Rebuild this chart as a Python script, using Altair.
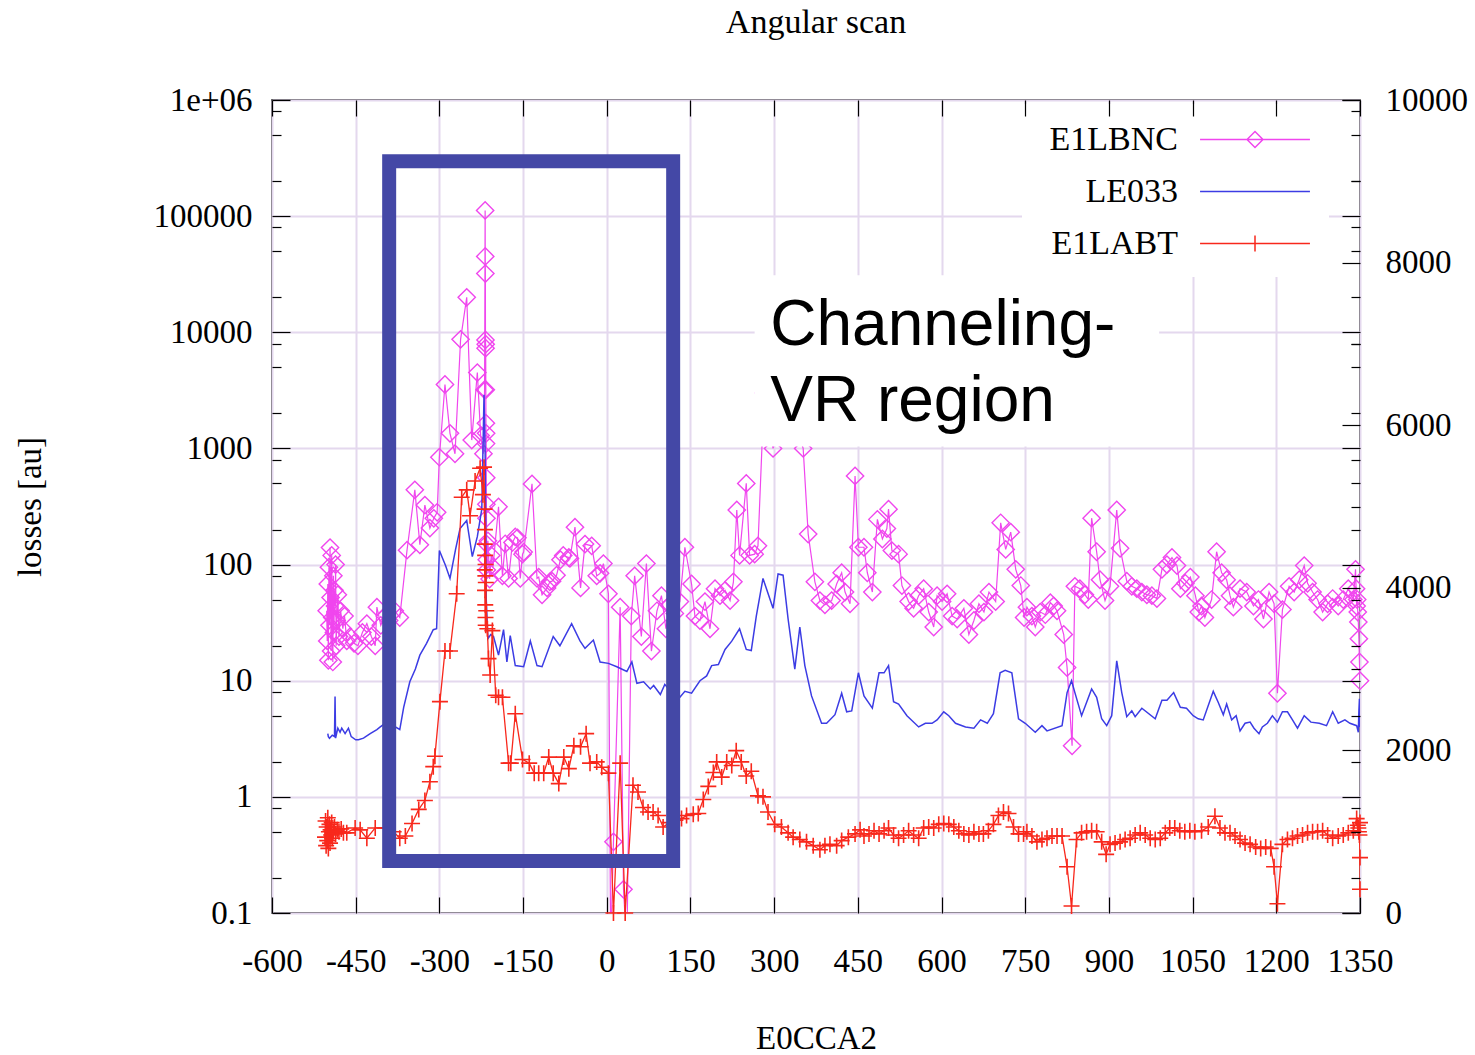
import altair as alt
import pandas as pd

# ---------------- measured series ----------------
# E1LBNC (diamonds)
lbnc_x = [-502, -501, -500, -499, -498, -497, -496, -495, -494, -493, -492, -491, -490, -489, -488,
          -487, -486, -485, -484, -482, -480, -477, -473, -470, -466, -460, -453, -446, -438, -430,
          -422, -415, -412, -405, -398, -390, -380, -371, -358, -344, -335, -326, -317, -310, -304,
          -300, -290, -281, -272, -262, -251, -242, -232, -226, -221, -219, -218, -217.8, -217.6,
          -217.4, -217.2, -217, -216.8, -216.6, -216.4, -216.2, -216, -215.8, -215.6, -215.4, -215.2,
          -215, -213, -210, -207, -204, -194, -187, -182, -176, -169, -164, -160, -155, -151, -149,
          -134, -125, -122, -116, -107, -102, -98, -90, -83, -78, -68, -66, -57, -47, -39, -27, -18,
          -12, -6, 3, 7, 12, 24, 30, 36, 44, 50, 62, 71, 80, 90, 98, 106, 113, 122, 131, 140, 152,
          158, 167, 176, 185, 194, 203, 212, 221, 227, 233, 238, 250, 256, 265, 271, 282, 298, 320,
          340, 352, 361, 373, 382, 391, 403, 412, 421, 427, 436, 445, 451, 461, 467, 476, 485, 494,
          502, 505, 511, 523, 529, 541, 550, 559, 568, 577, 586, 592, 601, 610, 619, 628, 640, 649,
          658, 667, 676, 685, 697, 706, 715, 724, 733, 742, 748, 753, 762, 768, 777, 786, 795, 801,
          807, 819, 825, 834, 839, 848, 857, 863, 869, 878, 884, 893, 902, 914, 920, 932, 941, 950,
          959, 968, 977, 986, 995, 1004, 1013, 1022, 1028, 1037, 1046, 1055, 1061, 1066, 1072, 1084,
          1093, 1102, 1111, 1117, 1123, 1135, 1147, 1159, 1168, 1177, 1187, 1196, 1202, 1211, 1223,
          1232, 1241, 1250, 1256, 1265, 1274, 1283, 1292, 1301, 1311, 1320, 1329, 1338, 1342, 1343,
          1344, 1345, 1346, 1347, 1348, 1349, 1350]
lbnc_v = [40, 22, 68, 15, 95, 30, 140, 52, 18, 120, 35, 14.5, 80, 26, 60,
          44, 100, 20, 33, 55, 24, 40, 28, 36, 22, 24, 21, 20, 26, 31,
          24, 20, 43, 30, 36, 33, 40, 35, 133, 440, 148, 325, 206, 250, 282,
          840, 3550, 1350, 900, 8700, 20000, 1180, 4500, 1290, 900, 3200, 112000, 45000, 32000,
          8600, 7300, 7900, 3200, 1650, 1100, 1350, 560, 330, 250, 150, 110,
          90, 160, 75, 120, 95, 314, 80, 151, 76, 155, 173, 170, 76, 123, 128,
          495, 76, 78, 55, 63, 71, 72, 81, 110, 120, 115, 113, 210, 63, 150, 145, 80,
          84, 102, 56, 0.05, 0.41, 43, 0.16, 0.05, 36, 80, 24, 102, 18, 40, 54, 28, 45, 38, 48, 141, 68,
          36, 33, 48, 28, 62, 54, 60, 49, 71, 295, 120, 500, 120, 123, 145, 3000, 1000, 2500,
          1500, 1000, 183, 71, 49, 45, 49, 68, 85, 58, 46, 580, 141, 141, 85, 58, 245, 166,
          204, 300, 132, 123, 66, 48, 42, 54, 62, 39, 29, 54, 48, 56, 36, 34, 42, 25,
          33, 46, 39, 58, 48, 229, 135, 190, 91, 66, 35, 43, 36, 29, 39, 37, 47, 44,
          40, 25, 13, 2.75, 65, 62, 55, 50, 251, 129, 74, 49, 65, 295, 138, 72, 65, 62,
          58, 55, 54, 51, 91, 100, 115, 98, 62, 69, 78, 54, 39, 44, 35, 50,
          129, 85, 74, 54, 43, 62, 58, 44, 50, 34, 58, 46, 7.8, 41, 65,
          58, 74, 98, 69, 58, 50, 39, 46, 51, 44, 50, 62, 50, 91, 62,
          44, 50, 39, 32, 23, 14.5, 10]

# LE033 (plain line)
le033_x = [-500, -499, -497, -492, -488, -487, -486, -482, -478, -475, -469, -463, -458, -450, -445,
           -436, -424, -412, -406, -397, -385, -379, -371, -364, -353, -343, -335, -323, -311, -305,
           -300, -289, -281, -271, -263, -251, -241, -232, -224, -220, -218, -216, -213, -208, -203,
           -194, -185, -179, -173, -164, -149, -137, -125, -116, -96, -84, -63, -48, -39, -24, -12,
           3, 18, 36, 45, 54, 66, 78, 84, 96, 104, 115, 131, 140, 152, 167, 179, 188, 200, 212, 224,
           238, 250, 259, 268, 280, 298, 307, 316, 325, 337, 346, 355, 367, 385, 394, 409, 421, 430,
           439, 451, 461, 476, 488, 497, 505, 514, 523, 538, 559, 571, 583, 592, 604, 613, 625, 643,
           658, 670, 682, 693, 705, 714, 726, 738, 750, 768, 780, 789, 816, 825, 833, 839, 851, 869,
           878, 887, 896, 905, 914, 923, 932, 941, 947, 959, 983, 995, 1004, 1016, 1028, 1039, 1051,
           1060, 1069, 1087, 1096, 1105, 1111, 1120, 1128, 1135, 1144, 1153, 1160, 1169, 1175, 1184,
           1193, 1202, 1211, 1220, 1229, 1238, 1250, 1262, 1277, 1290, 1301, 1311, 1323, 1332, 1344,
           1347, 1348, 1349, 1350]
le033_v = [3.5, 3.3, 3.2, 3.4, 3.3, 7.3, 3.2, 3.9, 3.6, 3.9, 3.5, 3.9, 3.3, 3.1, 3.1,
           3.2, 3.5, 3.8, 4.0, 4.3, 4.4, 4.0, 3.8, 5.9, 9.8, 12.6, 16.6, 21, 27.5, 28,
           132, 98, 76, 135, 204, 240, 117, 174, 300, 2900, 930, 50, 23, 25, 24,
           16.6, 27.5, 14.5, 24.5, 13.5, 13.2, 22, 13.5, 13.2, 24, 20, 31, 22, 19, 22.4, 14.5,
           14.1, 13.2, 12, 14.5, 9.5, 9.8, 8.5, 9.1, 7.6, 9.3, 8.0, 7.2, 8.1, 7.8, 10, 11, 13.5, 13.8, 18.6, 21.9,
           28, 18.6, 18.2, 36, 76, 42, 83, 81, 34, 12.6, 29, 13.5, 7.4, 4.3, 4.3, 5.1, 7.8, 5.4,
           5.5, 11.7, 7.4, 5.8, 11.7, 11.7, 13.5, 6.6, 6.3, 5.0, 4.0, 4.3, 4.3, 4.6, 5.4, 5.0, 4.3, 4.0,
           3.9, 4.6, 4.3, 5.2, 11.7, 12.3, 11.7, 4.7, 4.3, 3.6, 4.1, 3.7, 4.1, 7.9, 10, 7.9, 5.0, 8.5,
           7.2, 4.7, 4.1, 5.0, 14.8, 7.9, 4.9, 5.5, 4.9, 5.8, 4.7, 6.8, 6.8, 7.9, 5.9, 5.8, 5.0,
           4.7, 4.6, 8.1, 6.5, 5.1, 6.3, 4.6, 5.0, 3.7, 4.3, 4.4, 3.9, 3.5, 4.0, 4.3,
           5.0, 4.4, 5.4, 5.4, 4.6, 3.9, 5.0, 4.4, 4.3, 4.1, 5.4, 4.3, 4.6, 4.3, 4.1,
           3.6, 5.5, 7.0, 4.0]

# E1LABT (plus markers)
labt_x = [-505, -504, -503, -502, -501, -500, -499, -498, -497, -496, -495, -494, -493, -492, -490,
          -488, -486, -483, -480, -476, -472, -466, -451, -442, -430, -415, -397, -382, -371, -361,
          -349, -337, -326, -317, -311, -308, -299, -290, -281, -269, -260, -251, -245, -236, -227,
          -222, -220, -219, -218.8, -218.6, -218.4, -218.2, -218, -217.8, -217.6, -217.4, -217.2,
          -217, -216.8, -216, -214, -212, -209, -205, -199, -194, -187, -176, -172, -164, -151,
          -139, -130, -122, -113, -104, -96, -86, -77, -68, -59, -47, -37, -30, -18, -9, 3, 12, 24,
          33, 47, 56, 65, 74, 83, 92, 101, 112, 123, 134, 143, 155, 164, 173, 182, 191, 197, 206,
          215, 224, 232, 241, 250, 259, 271, 280, 289, 301, 313, 325, 334, 346, 358, 370, 382, 391,
          400, 412, 421, 433, 445, 454, 461, 470, 479, 488, 497, 505, 514, 523, 532, 541, 550, 559,
          568, 577, 586, 595, 604, 613, 622, 631, 640, 649, 658, 667, 675, 684, 693, 702, 711, 720,
          729, 738, 747, 753, 762, 771, 780, 789, 798, 807, 816, 825, 833, 842, 851, 860, 869, 878,
          887, 895, 902, 911, 920, 929, 938, 947, 956, 965, 974, 983, 992, 1001, 1009, 1018, 1027,
          1036, 1045, 1054, 1066, 1078, 1090, 1099, 1108, 1117, 1126, 1135, 1144, 1153, 1163, 1172,
          1181, 1190, 1196, 1202, 1211, 1220, 1229, 1238, 1247, 1256, 1265, 1274, 1283, 1292, 1301,
          1311, 1320, 1329, 1338, 1344, 1346, 1347, 1348, 1349, 1350, 1350, 1350]
labt_v = [0.45, 0.62, 0.38, 0.55, 0.42, 0.66, 0.36, 0.5, 0.58, 0.4, 0.52, 0.47, 0.6, 0.44, 0.5,
          0.55, 0.48, 0.52, 0.5, 0.53, 0.49, 0.49, 0.54, 0.52, 0.44, 0.54, 0.54, 0.5, 0.44, 0.46,
          0.59, 0.78, 0.93, 1.35, 1.82, 2.24, 6.6, 18, 18, 56, 380, 440, 263, 525, 676,
          400, 690, 300, 150, 90, 200, 60, 120, 45, 80, 35, 100,
          30, 70, 40, 28, 15.5, 11.2, 27, 7.5, 7.2, 7.2, 1.95, 1.95, 5.2, 2.1,
          1.95, 1.6, 1.6, 1.6, 2.2, 1.6, 1.3, 2.2, 1.75, 2.75, 2.7, 3.5, 1.95, 2.0, 1.8, 1.6, 0.1, 1.95,
          0.1, 1.26, 1.1, 0.81, 0.74, 0.74, 0.69, 0.55, 0.6, 0.63, 0.65, 0.69, 0.71, 0.72, 0.95, 1.23, 1.62, 2.0, 1.48,
          2.0, 1.86, 2.5, 2.0, 1.51, 1.66, 1.02, 1.0, 0.74, 0.58, 0.55, 0.49, 0.45, 0.43, 0.41, 0.38, 0.35, 0.38,
          0.39, 0.38, 0.42, 0.45, 0.48, 0.52, 0.46, 0.48, 0.51, 0.48, 0.51, 0.54, 0.47, 0.44, 0.47, 0.51, 0.47, 0.44,
          0.54, 0.55, 0.54, 0.58, 0.59, 0.58, 0.55, 0.51, 0.48, 0.47, 0.5, 0.48, 0.48, 0.51, 0.58, 0.69, 0.74, 0.72,
          0.55, 0.48, 0.48, 0.5, 0.46, 0.41, 0.43, 0.44, 0.46, 0.46, 0.46, 0.25, 0.115, 0.43, 0.49, 0.5, 0.51, 0.5,
          0.41, 0.32, 0.39, 0.4, 0.41, 0.43, 0.44, 0.47, 0.49, 0.47, 0.44, 0.43, 0.44, 0.49, 0.54, 0.54, 0.51,
          0.5, 0.51, 0.5, 0.51, 0.55, 0.68, 0.54, 0.49, 0.49, 0.46, 0.43, 0.4, 0.39, 0.37, 0.36,
          0.37, 0.36, 0.25, 0.12, 0.39, 0.43, 0.44, 0.46, 0.47, 0.49, 0.5, 0.5, 0.51, 0.47, 0.44,
          0.46, 0.47, 0.49, 0.51, 0.65, 0.57, 0.54, 0.5, 0.47, 0.3, 0.16, 0.6]

# ---------------- axes ----------------
x_ticks = list(range(-600, 1351, 150))
y_major = [0.1, 1, 10, 100, 1000, 10000, 100000, 1000000]
y_major_labels = ["0.1", "1", "10", "100", "1000", "10000", "100000", "1e+06"]
y_minor = [m * 10.0 ** k for k in range(-1, 6) for m in (2, 5, 8)]
y2_major = [0, 2000, 4000, 6000, 8000, 10000]
y2_minor = [1000, 3000, 5000, 7000, 9000]

series_names = ["E1LBNC", "LE033", "E1LABT"]
series_colors = ["#f046ee", "#3c3ce4", "#f8281c"]
frame_color = "#4448a6"

# highlighted scan window and its note
region_x = [-390, 119]
region_y = [0.28, 2.97e5]
note_box_x = [265, 990]
note_box_y = [1040, 31000]
note_x = [293]
note_y = [7770]
note_text = ["Channeling-\nVR region"]

SERIF = "Liberation Serif"
SANS = "Liberation Sans"
PLUS = "M-1,0H1M0,-1V1"
# legend glyphs: long line with the series marker in its middle
legend_shapes = [
    "M-2.97,0H2.97M-0.43,0L0,-0.43L0.43,0L0,0.43Z",
    "M-2.97,0H2.97",
    "M-2.97,0H2.97M0,-0.43V0.43",
]

xscale = alt.Scale(domain=[-600, 1350], nice=False, zero=False)
yscale = alt.Scale(type="log", domain=[0.1, 1e6], nice=False)
y2scale = alt.Scale(domain=[0, 10000], nice=False, zero=False)


def label_chain(values, labels):
    parts = [f"abs(datum.value - {v}) < {v} * 1e-6 ? '{t}'" for v, t in zip(values, labels)]
    return " : ".join(parts) + " : ''"


ax_bottom = alt.Axis(values=x_ticks, title="E0CCA2", grid=True, tickSize={"expr": "-16"},
                     labelPadding=48, labelExpr="'' + datum.value", labelFlush=False,
                     labelOverlap=False, titlePadding=44, zindex=0)
ax_top = alt.Axis(values=x_ticks, orient="top", labels=False, grid=False, title=None,
                  tickSize={"expr": "-16"}, zindex=1)
ax_left = alt.Axis(values=y_major, title="losses [au]", grid=True, tickSize={"expr": "-18"},
                   labelPadding=38, labelExpr=label_chain(y_major, y_major_labels),
                   labelOverlap=False, titlePadding=106, zindex=0)
ax_left_minor = alt.Axis(values=y_minor, labels=False, grid=False, title=None,
                         tickSize={"expr": "-9"}, zindex=1)
ax_right = alt.Axis(values=y_major, orient="right", labels=False, grid=False, title=None,
                    tickSize={"expr": "-18"}, zindex=1)
ax_right_minor = alt.Axis(values=y_minor, orient="right", labels=False, grid=False, title=None,
                          tickSize={"expr": "-9"}, zindex=1)
ax_y2 = alt.Axis(values=y2_major, orient="right", title=None, grid=False,
                 tickSize={"expr": "-18"}, labelPadding=43, labelExpr="'' + datum.value",
                 labelOverlap=False, zindex=1)
ax_y2_minor = alt.Axis(values=y2_minor, orient="right", labels=False, title=None, grid=False,
                       tickSize={"expr": "-9"}, zindex=1)

lbnc = pd.DataFrame({"x": lbnc_x, "v": lbnc_v, "i": range(len(lbnc_x))})
le033 = pd.DataFrame({"x": le033_x, "v": le033_v, "i": range(len(le033_x))})
labt = pd.DataFrame({"x": labt_x, "v": labt_v, "i": range(len(labt_x))})


def X(axis):
    return alt.X("x:Q", scale=xscale, axis=axis)


def Y(axis):
    return alt.Y("v:Q", scale=yscale, axis=axis)


lbnc_line = alt.Chart(lbnc).mark_line(color=series_colors[0], strokeWidth=1.2, clip=True).encode(
    x=X(ax_bottom), y=Y(ax_left), order="i:Q")
lbnc_pts = alt.Chart(lbnc).transform_filter("datum.v >= 0.1").mark_point(
    shape="diamond", size=300, filled=False, color=series_colors[0], strokeWidth=1.4, opacity=1
).encode(x=X(ax_top), y=Y(ax_right))

le033_line = alt.Chart(le033).mark_line(color=series_colors[1], strokeWidth=1.5, clip=True).encode(
    x=X(None), y=Y(ax_left_minor), order="i:Q")

labt_line = alt.Chart(labt).mark_line(color=series_colors[2], strokeWidth=1.3, clip=True).encode(
    x=X(None), y=Y(ax_right_minor), order="i:Q")
labt_pts = alt.Chart(labt).mark_point(
    shape=PLUS, size=256, filled=False, color=series_colors[2], strokeWidth=1.6, opacity=1
).encode(x=X(None), y=Y(None))

# right-hand linear axis
y2_major_layer = alt.Chart(pd.DataFrame({"t": y2_major})).mark_point(opacity=0).encode(
    y=alt.Y("t:Q", scale=y2scale, axis=ax_y2))
y2_minor_layer = alt.Chart(pd.DataFrame({"t": y2_minor})).mark_point(opacity=0).encode(
    y=alt.Y("t:Q", scale=y2scale, axis=ax_y2_minor))

note_box = alt.Chart(pd.DataFrame({"x0": [note_box_x[0]], "x1": [note_box_x[1]],
                                   "y0": [note_box_y[0]], "y1": [note_box_y[1]]})).mark_rect(
    color="white").encode(
    x=alt.X("x0:Q", scale=xscale, axis=None), x2="x1:Q",
    y=alt.Y("y0:Q", scale=yscale, axis=None), y2="y1:Q")

region = alt.Chart(pd.DataFrame({"x0": [region_x[0]], "x1": [region_x[1]],
                                 "y0": [region_y[0]], "y1": [region_y[1]]})).mark_rect(
    filled=False, color=frame_color, strokeWidth=14, strokeJoin="miter", opacity=1).encode(
    x=alt.X("x0:Q", scale=xscale, axis=None), x2="x1:Q",
    y=alt.Y("y0:Q", scale=yscale, axis=None), y2="y1:Q")

note = alt.Chart(pd.DataFrame({"x": note_x, "v": note_y, "t": note_text})).mark_text(
    align="left", baseline="alphabetic", font=SANS, fontSize=64, lineHeight=76,
    lineBreak="\n", color="black").encode(
    x=alt.X("x:Q", scale=xscale, axis=None), y=alt.Y("v:Q", scale=yscale, axis=None), text="t:N")

key = alt.Legend(orient="none", legendX=750, legendY=4, title=None, fillColor="white", padding=16,
                 labelFont=SERIF, labelFontSize=34, labelColor="black", labelAlign="right",
                 labelOffset={"expr": "-96.5"}, symbolSize=1369, symbolOffset=197.5,
                 symbolStrokeWidth=1.5, rowPadding=15, symbolFillColor="transparent")
legend_layer = alt.Chart(pd.DataFrame({"series": series_names})).transform_filter("false").mark_point(
    filled=False, opacity=1, strokeWidth=1.5).encode(
    color=alt.Color("series:N", scale=alt.Scale(domain=series_names, range=series_colors), legend=key),
    shape=alt.Shape("series:N", scale=alt.Scale(domain=series_names, range=legend_shapes), legend=key))

chart = alt.layer(
    lbnc_line, lbnc_pts, le033_line, labt_line, labt_pts,
    y2_major_layer, y2_minor_layer, note_box, region, note, legend_layer
).resolve_scale(y="independent").resolve_axis(x="independent", y="independent").properties(
    width=1088, height=813,
    padding={"left": 272, "top": 100, "right": 115, "bottom": 142},
    autosize=alt.AutoSizeParams(type="none"),
    background="white",
    title=alt.TitleParams("Angular scan", font=SERIF, fontSize=34, fontWeight="normal",
                          color="black", anchor="middle", offset=44),
).configure_view(stroke="black", strokeWidth=1.5).configure_axis(
    domain=False, labelFont=SERIF, labelFontSize=33, labelColor="black",
    titleFont=SERIF, titleFontSize=33, titleFontWeight="normal", titleColor="black",
    tickColor="black", tickWidth=1.2, gridColor="#e4d8ee", gridWidth=2, gridOpacity=1)

chart.save("out.html", embed_options={"renderer": "svg", "actions": False})
